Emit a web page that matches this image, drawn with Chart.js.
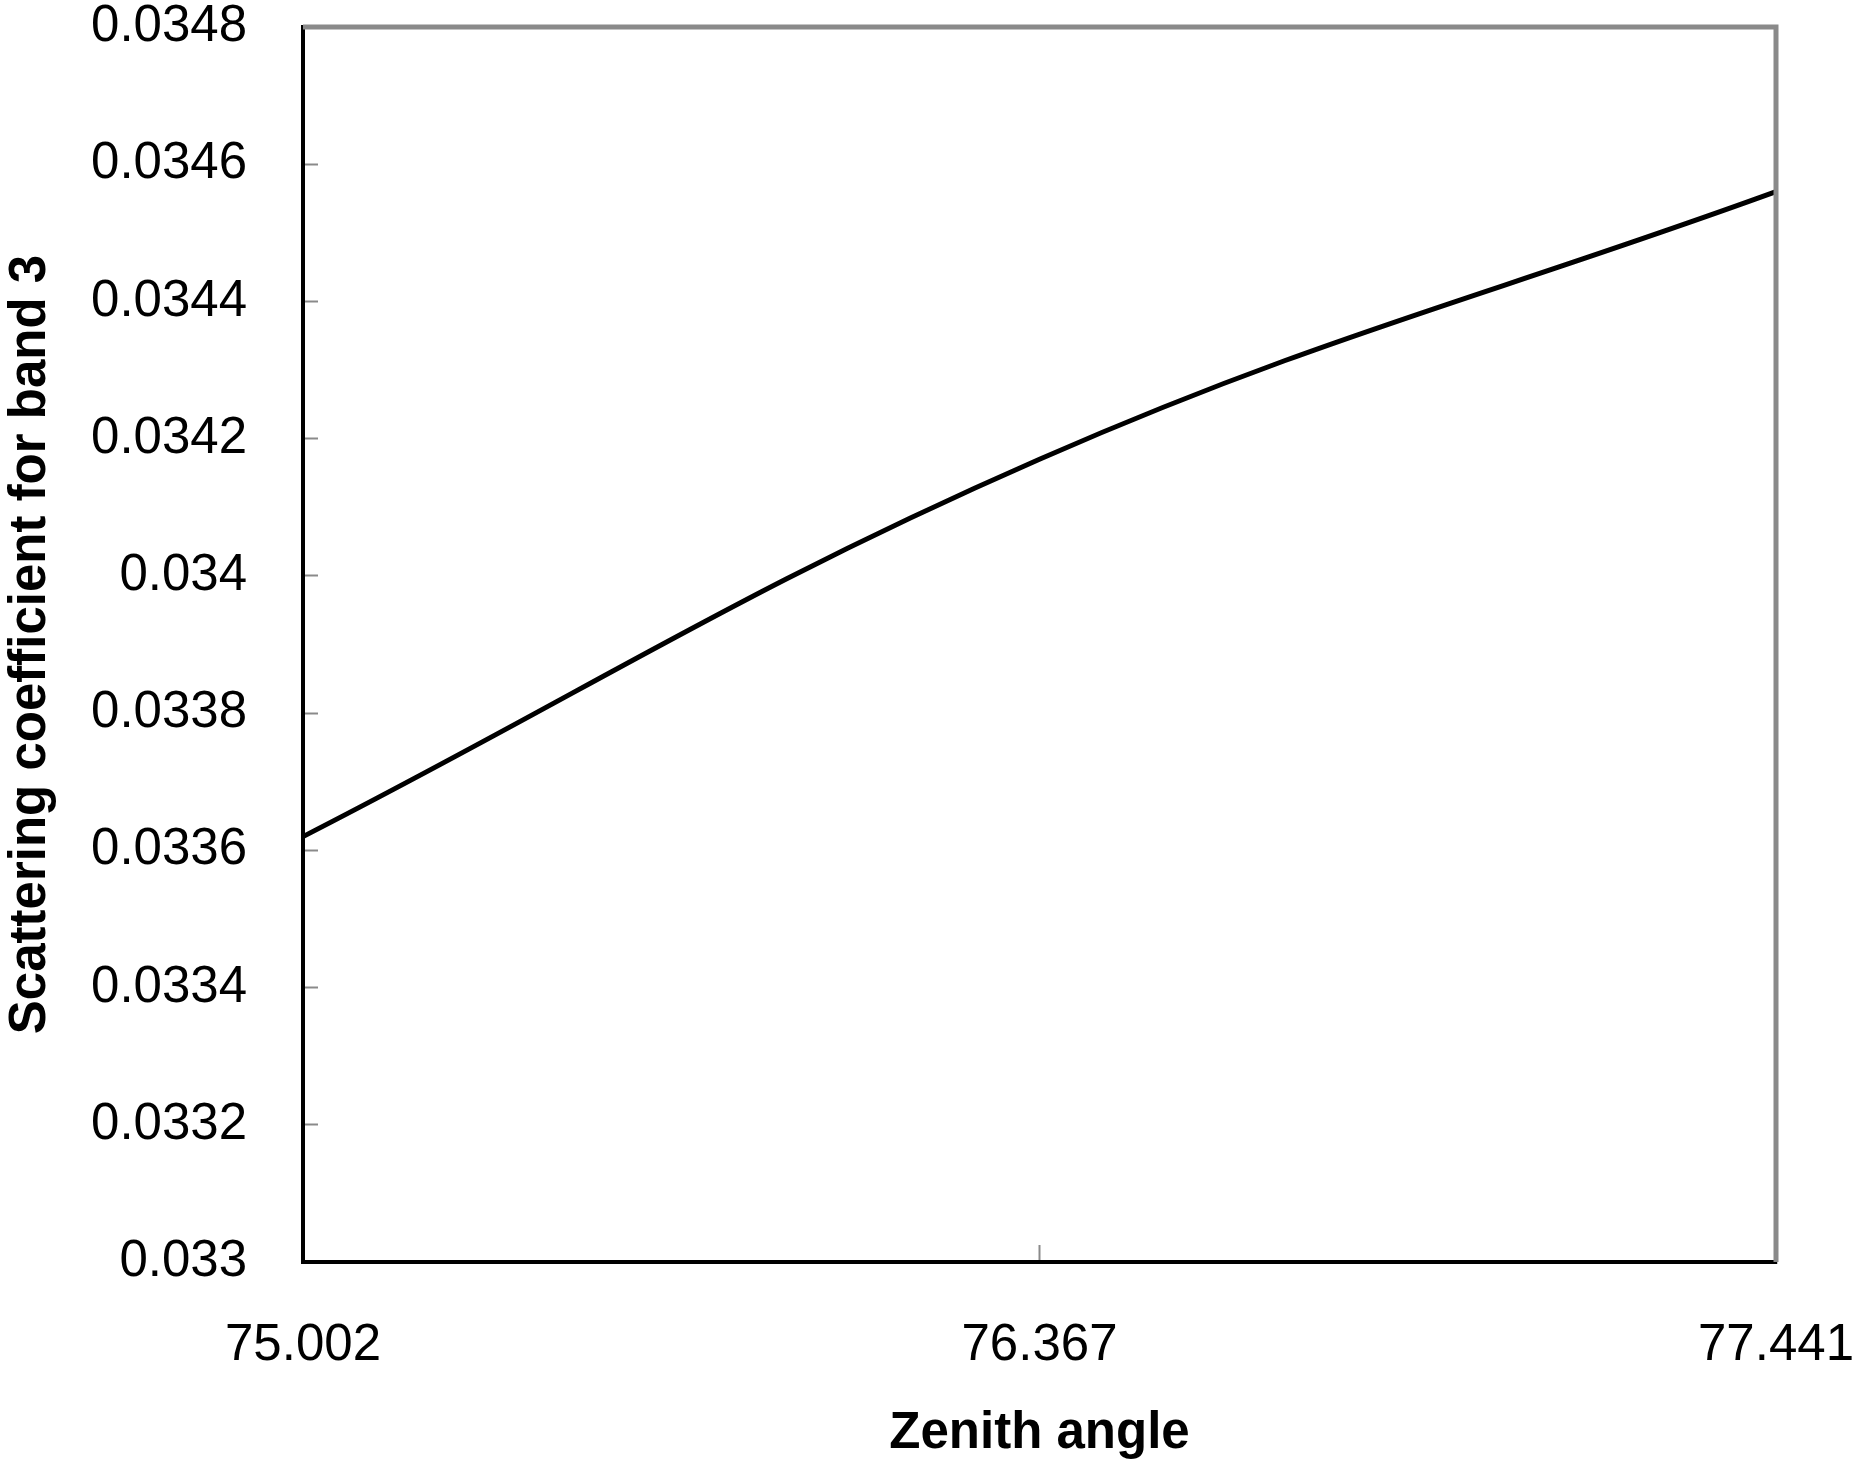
<!DOCTYPE html>
<html>
<head>
<meta charset="utf-8">
<script src="https://cdn.jsdelivr.net/npm/chart.js@4.4.1/dist/chart.umd.min.js"></script>
<style>
  html, body { margin: 0; padding: 0; background: #fff; }
  #wrap { width: 1858px; height: 1473px; }
</style>
</head>
<body>
<div id="wrap"><canvas id="chart" width="1858" height="1473"></canvas></div>
<script>
  const zenithAngles = ['75.002', '76.367', '77.441'];
  const scatteringBand3 = [0.03362, 0.03417, 0.03456];
  const yTickValues = [0.033, 0.0332, 0.0334, 0.0336, 0.0338, 0.034, 0.0342, 0.0344, 0.0346, 0.0348];
  const yTickLabels = ['0.033', '0.0332', '0.0334', '0.0336', '0.0338', '0.034', '0.0342', '0.0344', '0.0346', '0.0348'];

  const FONT = "'Liberation Sans', Arial, sans-serif";

  // labels may hang over the plot edge, don't let chart.js shrink the area for it
  function noOverhang(s) {
    s.paddingTop = 0;
    s.paddingBottom = 0;
    s.paddingLeft = 0;
    s.paddingRight = 0;
  }

  // top + right edges of the frame are grey in the original
  const frameEdges = {
    id: 'frameEdges',
    afterDraw(chart) {
      const { ctx, chartArea: a } = chart;
      ctx.save();
      ctx.strokeStyle = '#8a8a8a';
      ctx.lineWidth = 5;
      ctx.beginPath();
      ctx.moveTo(a.left, a.top);
      ctx.lineTo(a.right, a.top);
      ctx.lineTo(a.right, a.bottom);
      ctx.stroke();
      ctx.restore();
    },
  };

  new Chart(document.getElementById('chart'), {
    type: 'line',
    data: {
      labels: zenithAngles,
      datasets: [{
        data: scatteringBand3,
        borderColor: '#000',
        borderWidth: 5,
        pointRadius: 0,
        tension: 0.4,
        fill: false,
      }],
    },
    options: {
      responsive: false,
      animation: false,
      layout: { padding: { top: 27, right: 82, left: 0, bottom: 0 } },
      plugins: { legend: { display: false }, tooltip: { enabled: false } },
      scales: {
        x: {
          type: 'category',
          offset: false,
          afterFit: (s) => { s.height = 211; noOverhang(s); },
          grid: {
            drawOnChartArea: false,
            drawTicks: true,
            tickLength: -17,
            tickWidth: 2,
            tickColor: '#8a8a8a',
          },
          border: { color: '#000', width: 4 },
          ticks: {
            color: '#000',
            padding: 70,
            maxRotation: 0,
            font: { family: FONT, size: 51 },
          },
          title: {
            display: true,
            text: 'Zenith angle',
            color: '#000',
            padding: { top: 0, bottom: 8 },
            font: { family: FONT, size: 51, weight: 'bold' },
          },
        },
        y: {
          min: 0.033,
          max: 0.0348,
          afterFit: (s) => { s.width = 303; noOverhang(s); },
          afterBuildTicks: (s) => { s.ticks = yTickValues.map((v) => ({ value: v })); },
          grid: {
            drawOnChartArea: false,
            drawTicks: true,
            tickLength: -15,
            tickWidth: 2,
            tickColor: '#8a8a8a',
          },
          border: { color: '#000', width: 4 },
          ticks: {
            color: '#000',
            padding: 71,
            font: { family: FONT, size: 51 },
            callback: (v, i) => yTickLabels[i],
          },
          title: {
            display: true,
            text: 'Scattering coefficient for band 3',
            color: '#000',
            padding: { top: 0, bottom: 0 },
            font: { family: FONT, size: 51, weight: 'bold' },
          },
        },
      },
    },
    plugins: [frameEdges],
  });
</script>
</body>
</html>
